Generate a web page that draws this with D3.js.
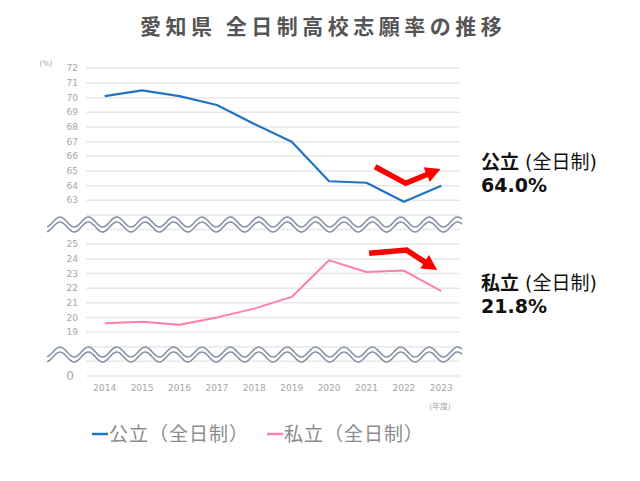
<!DOCTYPE html>
<html><head><meta charset="utf-8">
<script src="https://cdn.jsdelivr.net/npm/d3@7"></script>
<style>
body{margin:0;background:#fff;}
svg{display:block;}
</style></head>
<body>
<svg id="c" width="640" height="481"></svg>
<script>
// ---- data ----
const years = ["2014","2015","2016","2017","2018","2019","2020","2021","2022","2023"];
const publicRate = [70.1, 70.5, 70.1, 69.5, 68.2, 67.0, 64.3, 64.2, 62.9, 64.0];
const privateRate = [19.6, 19.7, 19.5, 20.0, 20.6, 21.4, 23.9, 23.1, 23.2, 21.8];
const topTicks = [72,71,70,69,68,67,66,65,64,63];
const bottomTicks = [25,24,23,22,21,20,19];
const gridValues = [72,71,70,69,68,67,66,65,64,63,62,26,25,24,23,22,21,20,19,18,17,0];
const seriesNames = ["公立（全日制）","私立（全日制）"];
const title = "愛知県 全日制高校志願率の推移";
// arrow annotations in (year index, value) space
const arrowPublic = [[7.23,65.29],[8.05,64.16],[8.98,65.14]];
const arrowPrivate = [[7.07,24.38],[8.07,24.60],[8.89,23.24]];

const svg = d3.select("#c");
const left = 86, right = 460;
const blue = "#1f74c6", pink = "#ff7fa6", red = "#ff0000";
const font = "'Noto Sans CJK JP','Noto Sans',sans-serif";

const x = d3.scaleBand().domain(years).range([left, right]);
const cx = d => x(d) + x.bandwidth()/2;
const xi = d3.scaleLinear().domain([0, years.length-1]).range([cx(years[0]), cx(years[years.length-1])]);
// broken axis: piecewise linear scale
const y = d3.scaleLinear().domain([0,17,26,62,72]).range([376,361.3,229.6,215,68.3]);

// title
svg.append("text").attr("x",140).attr("y",34)
  .attr("font-family",font).attr("font-weight","bold").attr("font-size",21)
  .attr("letter-spacing","4.5px").attr("fill","#555").text(title);

// gridlines
svg.append("g").selectAll("line").data(gridValues).join("line")
  .attr("x1",left).attr("x2",right).attr("y1",d=>y(d)).attr("y2",d=>y(d))
  .attr("stroke","#e8e8e8").attr("stroke-width",1.5);

// y tick labels
const tickG = svg.append("g").attr("font-family","'DejaVu Sans',sans-serif").attr("fill","#a6a6a6");
tickG.selectAll("text.t").data(topTicks.concat(bottomTicks)).join("text")
  .attr("class","t").attr("x",78).attr("y",d=>y(d)).attr("dy","0.35em")
  .attr("text-anchor","end").attr("font-size",9).text(d=>d);
tickG.append("text").attr("x",74).attr("y",y(0)).attr("dy","0.35em")
  .attr("text-anchor","end").attr("font-size",12).text("0");
tickG.append("text").attr("x",46).attr("y",66).attr("text-anchor","middle")
  .attr("font-size",7.5).text("(%)");

// x labels
svg.append("g").selectAll("text").data(years).join("text")
  .attr("x",d=>cx(d)).attr("y",388).attr("dy","0.35em").attr("text-anchor","middle")
  .attr("font-family","'DejaVu Sans',sans-serif").attr("font-size",9).attr("fill","#a6a6a6").text(d=>d);
svg.append("text").attr("x",440).attr("y",406).attr("dy","0.35em").attr("text-anchor","middle")
  .attr("font-family",font).attr("font-size",8).attr("fill","#a6a6a6").text("(年度)");

// lines
const line = d3.line().x((d,i)=>cx(years[i])).y(d=>y(d));
svg.append("path").datum(publicRate).attr("d",line).attr("fill","none")
  .attr("stroke",blue).attr("stroke-width",2.2).attr("stroke-linejoin","round");
svg.append("path").datum(privateRate).attr("d",line).attr("fill","none")
  .attr("stroke",pink).attr("stroke-width",2).attr("stroke-linejoin","round");

// break waves
function wave(cy){
  return d3.range(47, 462.5, 1).map(px => [px, cy - 5*Math.cos(2*Math.PI*(px-60)/28.4)]);
}
const wl = d3.line().curve(d3.curveBasis);
[222, 352].forEach(cy=>{
  const g = svg.append("g");
  const up = wave(cy), lo = wave(cy+5);
  g.append("path").attr("d",wl(up.map(p=>[p[0],p[1]+2.5]))).attr("fill","none")
    .attr("stroke","#fff").attr("stroke-width",7);
  g.append("path").attr("d",wl(up)).attr("fill","none").attr("stroke","#8893a6").attr("stroke-width",1.6);
  g.append("path").attr("d",wl(lo)).attr("fill","none").attr("stroke","#8893a6").attr("stroke-width",1.6);
});

// arrows
function arrow(pts){
  const P = pts.map(p=>[xi(p[0]), y(p[1])]);
  const a = P[P.length-2], t = P[P.length-1];
  const dx = t[0]-a[0], dy = t[1]-a[1], L = Math.hypot(dx,dy);
  const ux = dx/L, uy = dy/L, hl = 15, hw = 8;
  const base = [t[0]-ux*hl, t[1]-uy*hl];
  const shaft = P.slice(0,-1).concat([[base[0]+ux*1, base[1]+uy*1]]);
  svg.append("path").attr("d",d3.line()(shaft)).attr("fill","none")
    .attr("stroke",red).attr("stroke-width",5.5).attr("stroke-linejoin","miter");
  svg.append("path").attr("d",d3.line()([t,[base[0]-uy*hw,base[1]+ux*hw],[base[0]+uy*hw,base[1]-ux*hw]])+"Z")
    .attr("fill",red);
}
arrow(arrowPublic);
arrow(arrowPrivate);

// right annotations
function annot(yy, name, val){
  const t = svg.append("text").attr("x",481).attr("y",yy).attr("font-family",font)
    .attr("font-size",19).attr("fill","#111");
  t.append("tspan").attr("font-weight","bold").text(name);
  t.append("tspan").attr("font-family","'DejaVu Sans',sans-serif").text(" (");
  t.append("tspan").text("全日制");
  t.append("tspan").attr("font-family","'DejaVu Sans',sans-serif").text(")");
  svg.append("text").attr("x",481).attr("y",yy+23).attr("font-family","'DejaVu Sans',sans-serif")
    .attr("font-weight","bold").attr("font-size",19).attr("fill","#111").text(val.toFixed(1)+"%");
}
annot(169, "公立", publicRate[publicRate.length-1]);
annot(290, "私立", privateRate[privateRate.length-1]);

// legend
const legend = [{name:seriesNames[0],color:blue,x:92},{name:seriesNames[1],color:pink,x:267}];
const lg = svg.append("g");
legend.forEach(l=>{
  lg.append("line").attr("x1",l.x).attr("x2",l.x+16).attr("y1",434).attr("y2",434)
    .attr("stroke",l.color).attr("stroke-width",2.5);
  lg.append("text").attr("x",l.x+17).attr("y",441).attr("font-family",font)
    .attr("font-size",19).attr("letter-spacing","1px").attr("fill","#8c8c8c").text(l.name);
});
</script>
</body></html>
